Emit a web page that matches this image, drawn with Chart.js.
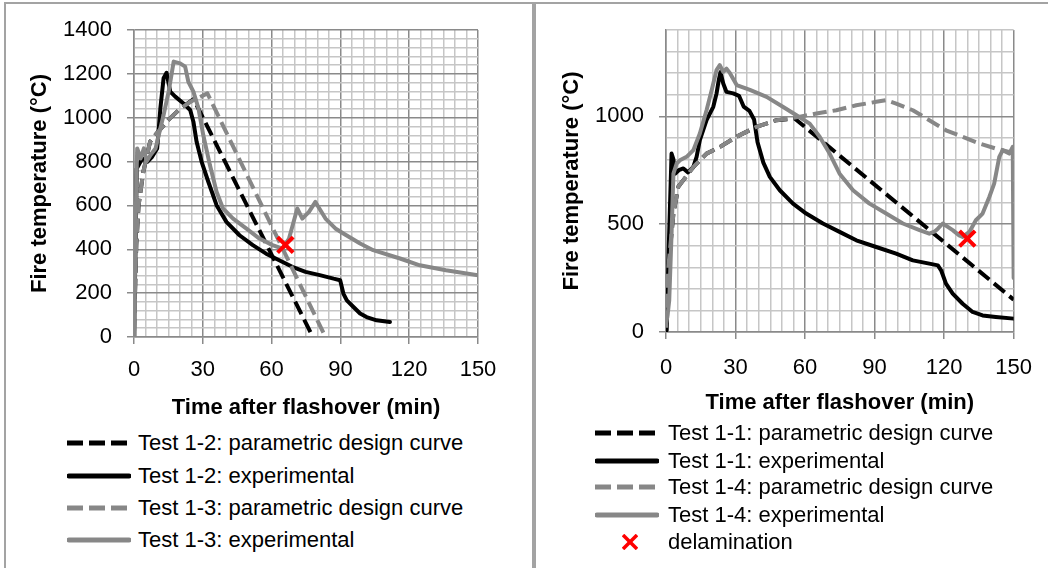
<!DOCTYPE html>
<html>
<head>
<meta charset="utf-8">
<script src="https://cdn.jsdelivr.net/npm/chart.js@4.4.0/dist/chart.umd.min.js"></script>
<style>
  html, body { margin: 0; padding: 0; background: #fff; }
  body { width: 1048px; height: 568px; overflow: hidden; position: relative; font-family: "Liberation Sans", Arial, sans-serif; }
  .panel { position: absolute; border: 2px solid #a3a3a3; border-bottom: none; box-sizing: border-box; }
  #panelL { left: 4px; top: 2px; width: 530px; height: 600px; }
  #panelR { left: 534px; top: 2px; width: 600px; height: 600px; }
  canvas { position: absolute; }
  #cL { left: 0; top: 0; }
  #cR { left: 535px; top: 0; }
  .lg { position: absolute; height: 26px; line-height: 26px; font-size: 22px; color: #000; white-space: nowrap; }
  .lgs { position: absolute; }
</style>
</head>
<body>
<div class="panel" id="panelL"></div>
<div class="panel" id="panelR"></div>
<canvas id="cL" width="532" height="427" style="width:532px;height:427px"></canvas>
<canvas id="cR" width="513" height="422" style="width:513px;height:422px"></canvas>
<div id="legendL"></div>
<div id="legendR"></div>
<script>
// ---------- tick labels ----------
const xTickLabels = [0, 30, 60, 90, 120, 150];
const yTickLabelsLeft = [0, 200, 400, 600, 800, 1000, 1200, 1400];
const yTickLabelsRight = [0, 500, 1000];

// ---------- left chart: Test 1-2 and Test 1-3 ----------
const t12Design = [0, 1, 2, 4, 7, 10, 15, 20, 26, 78];
const T12Design = [20, 420, 600, 750, 890, 930, 990, 1040, 1085, 0];

const t12Exp = [0, 0.5, 1.2, 3.6, 5.8, 7.9, 10.1, 11.5, 12.9, 14.2, 15.8, 18, 21.6, 24.5, 25.9, 27.3, 29.5, 32.4, 36, 40.3, 46, 51.8, 57.6, 63.3, 69, 74.8, 81, 87, 89.9, 91.3, 92.8, 95.7, 98.6, 101.4, 105.8, 111.6];
const T12Exp = [0, 300, 768, 814, 799, 822, 860, 1043, 1180, 1205, 1119, 1096, 1065, 1035, 982, 890, 799, 708, 601, 525, 464, 419, 380, 350, 320, 297, 282, 266, 259, 198, 167, 137, 107, 91, 76, 68];

const t13Design = [0, 1, 2, 4, 7, 10, 15, 20, 25, 32, 83.5];
const T13Design = [20, 420, 600, 750, 890, 930, 990, 1040, 1075, 1111, 0];

const t13Exp = [0, 0.3, 1, 1.4, 2.9, 4.3, 5.5, 7.2, 9.4, 10.8, 12.9, 15.1, 17.3, 20.1, 22.3, 23.7, 25.9, 28.1, 30.2, 33.1, 36, 38.8, 43.2, 48.9, 54.7, 60.4, 64.7, 67.6, 71.2, 73.4, 76.3, 79.1, 83.5, 87.8, 91.3, 98.6, 104.3, 116, 124.6, 136, 150];
const T13Exp = [0, 205, 700, 860, 814, 860, 800, 830, 860, 921, 1012, 1119, 1256, 1248, 1233, 1164, 1119, 1043, 921, 784, 662, 586, 540, 495, 449, 419, 403, 449, 586, 540, 571, 616, 540, 495, 472, 426, 396, 358, 327, 304, 281];

const tDelamLeft = [66];
const TDelamLeft = [420];

// ---------- right chart: Test 1-1 and Test 1-4 ----------
const t11Design = [0, 1, 3.2, 5.3, 7.5, 11.8, 17.5, 23.3, 30.4, 39, 47.7, 55.5, 150];
const T11Design = [20, 300, 549, 673, 704, 765, 827, 858, 905, 951, 982, 990, 150];

const t11Exp = [0.3, 1.2, 2.4, 3.2, 3.9, 5.5, 7.5, 9.5, 11.8, 13.2, 14.6, 17.5, 20.4, 21.8, 22.8, 23.5, 24.7, 26.1, 29, 31.5, 33.5, 36, 38, 39.5, 42, 44.8, 49.1, 54.8, 60.5, 67.7, 74.9, 82.1, 90.7, 99.3, 106.5, 113.6, 117.3, 118.7, 120.8, 123.7, 128, 132.3, 136.6, 142.3, 150];
const T11Exp = [8, 400, 827, 800, 734, 750, 758, 740, 765, 812, 889, 982, 1044, 1105, 1170, 1205, 1152, 1113, 1106, 1095, 1045, 1025, 985, 880, 785, 719, 657, 595, 549, 503, 464, 425, 394, 363, 332, 317, 309, 286, 224, 178, 131, 93, 77, 70, 62];

const t14Design = [0, 1, 3.2, 5.3, 7.5, 11.8, 17.5, 23.3, 30.4, 39, 47.7, 56.3, 64.9, 73.5, 82.1, 90.7, 95, 99.3, 106.5, 113.6, 120.8, 128, 135.2, 142.4, 148];
const T14Design = [20, 300, 549, 673, 704, 765, 827, 858, 905, 951, 982, 995, 1013, 1028, 1051, 1067, 1075, 1059, 1028, 982, 935, 905, 874, 850, 835];

const t14Exp = [0, 0.6, 1.4, 2.4, 3.2, 4.6, 6, 8.9, 11.8, 14.6, 17.5, 19.7, 21.8, 23.2, 24.7, 26.1, 27.6, 30.5, 36.2, 43.4, 50.4, 56.3, 62, 66.3, 70.6, 74.9, 80.7, 87.8, 95, 102.2, 109.4, 113.6, 115.8, 117.3, 119.4, 121.6, 123.7, 126.5, 128, 130.9, 133.7, 136.6, 139.5, 141.6, 143.8, 145.3, 148.1, 149.6, 150];
const T14Exp = [40, 70, 147, 456, 734, 781, 796, 812, 843, 920, 1028, 1121, 1214, 1237, 1206, 1221, 1200, 1145, 1122, 1090, 1044, 1005, 966, 905, 827, 734, 657, 595, 549, 503, 472, 456, 465, 479, 503, 487, 472, 448, 441, 464, 518, 549, 626, 688, 812, 843, 827, 858, 250];

const tDelamRight = [130];
const TDelamRight = [433];

// ---------- helpers ----------
const BLACK = '#000000';
const GRAY = '#878787';
const RED = '#ff0000';
const DASH = [14, 6];
const FONT = '"Liberation Sans", Arial, sans-serif';

function pts(ts, Ts) { return ts.map((t, i) => ({ x: t, y: Ts[i] })); }

function lineSet(label, ts, Ts, color, dashed, order) {
  return {
    label, data: pts(ts, Ts), borderColor: color, backgroundColor: color,
    borderWidth: 4, borderDash: dashed ? DASH : [], pointRadius: 0, pointHoverRadius: 0,
    tension: 0, fill: false, borderJoinStyle: 'round', borderCapStyle: dashed ? 'butt' : 'round',
    order, _dashed: dashed
  };
}
function delamSet(ts, Ts) {
  return {
    label: 'delamination', data: pts(ts, Ts), showLine: false,
    pointStyle: 'crossRot', pointRadius: 11, pointBorderWidth: 4,
    borderColor: RED, backgroundColor: RED, pointBorderColor: RED, order: 0, _marker: true
  };
}

function makeOptions(yMax, yStep, yMajor, yLabels, yWidth, padRight, yTitlePad, xTickPad) {
  const majorCol = '#8a8a8a', minorCol = '#c6c6c6';
  return {
    responsive: false, animation: false, devicePixelRatio: 1,
    layout: { padding: { left: 0, right: padRight, top: 30, bottom: 0 } },
    plugins: { legend: { display: false }, tooltip: { enabled: false } },
    scales: {
      x: {
        type: 'linear', min: 0, max: 150,
        afterFit: s => { s.height = 90; },
        ticks: {
          stepSize: 5, autoSkip: false, maxRotation: 0, padding: xTickPad, color: '#000',
          font: { family: FONT, size: 22 },
          callback: v => xTickLabels.includes(v) ? String(v) : ''
        },
        grid: {
          color: c => (c.tick && c.tick.value % 30 === 0) ? majorCol : minorCol,
          tickColor: c => (c.tick && c.tick.value % 30 === 0) ? majorCol : 'rgba(0,0,0,0)',
          lineWidth: 1.5, tickLength: 7, drawTicks: true
        },
        border: { color: majorCol, width: 1.5 },
        title: { display: true, text: 'Time after flashover (min)', color: '#000',
                 font: { family: FONT, size: 22, weight: 'bold' }, padding: { top: 0, bottom: 5.8 } }
      },
      y: {
        min: 0, max: yMax,
        afterFit: s => { s.width = yWidth; },
        ticks: {
          stepSize: yStep, autoSkip: false, padding: 15, color: '#000',
          font: { family: FONT, size: 22 },
          callback: v => yLabels.includes(v) ? String(v) : ''
        },
        grid: {
          color: c => (c.tick && c.tick.value % yMajor === 0) ? majorCol : minorCol,
          tickColor: c => (c.tick && c.tick.value % yMajor === 0) ? majorCol : 'rgba(0,0,0,0)',
          lineWidth: 1.5, tickLength: 7
        },
        border: { color: majorCol, width: 1.5 },
        title: { display: true, text: 'Fire temperature (°C)', color: '#000',
                 font: { family: FONT, size: 22, weight: 'bold' }, padding: { top: yTitlePad, bottom: 0 } }
      }
    }
  };
}

// ---------- left chart ----------
const leftSets = [
  lineSet('Test 1-2: parametric design curve', t12Design, T12Design, BLACK, true, 4),
  lineSet('Test 1-2: experimental', t12Exp, T12Exp, BLACK, false, 3),
  lineSet('Test 1-3: parametric design curve', t13Design, T13Design, GRAY, true, 2),
  lineSet('Test 1-3: experimental', t13Exp, T13Exp, GRAY, false, 1),
  delamSet(tDelamLeft, TDelamLeft)
];
new Chart(document.getElementById('cL'), {
  type: 'line',
  data: { datasets: leftSets },
  options: makeOptions(1400, 40, 200, yTickLabelsLeft, 134, 54, 26.8, 13)
});

// ---------- right chart ----------
const rightSets = [
  lineSet('Test 1-1: parametric design curve', t11Design, T11Design, BLACK, true, 4),
  lineSet('Test 1-1: experimental', t11Exp, T11Exp, BLACK, false, 3),
  lineSet('Test 1-4: parametric design curve', t14Design, T14Design, GRAY, true, 2),
  lineSet('Test 1-4: experimental', t14Exp, T14Exp, GRAY, false, 1),
  delamSet(tDelamRight, TDelamRight)
];
new Chart(document.getElementById('cR'), {
  type: 'line',
  data: { datasets: rightSets },
  options: makeOptions(1400, 100, 500, yTickLabelsRight, 131, 34, 23.8, 16)
});

// ---------- HTML legends (real text) ----------
function buildLegend(el, sets, sampleX, textX, rowYs, includeMarker) {
  let html = '';
  const list = includeMarker ? sets : sets.filter(s => !s._marker);
  list.forEach((s, i) => {
    const cy = rowYs[i];
    let svg;
    if (s._marker) {
      svg = `<svg class="lgs" style="left:${sampleX + 27}px;top:${cy - 8}px" width="16" height="16">
        <line x1="1" y1="1" x2="15" y2="15" stroke="${RED}" stroke-width="3.5"/>
        <line x1="15" y1="1" x2="1" y2="15" stroke="${RED}" stroke-width="3.5"/></svg>`;
    } else if (s._dashed) {
      svg = `<svg class="lgs" style="left:${sampleX}px;top:${cy - 4}px" width="60" height="8">
        <line x1="0" y1="4" x2="60" y2="4" stroke="${s.borderColor}" stroke-width="5" stroke-dasharray="16,6"/></svg>`;
    } else {
      svg = `<svg class="lgs" style="left:${sampleX}px;top:${cy - 4}px" width="64" height="8">
        <line x1="2" y1="4" x2="62" y2="4" stroke="${s.borderColor}" stroke-width="5" stroke-linecap="round"/></svg>`;
    }
    html += svg + `<div class="lg" style="left:${textX}px;top:${cy - 13}px">${s.label}</div>`;
  });
  el.innerHTML = html;
}
buildLegend(document.getElementById('legendL'), leftSets, 67, 138, [443, 476, 508, 540], false);
buildLegend(document.getElementById('legendR'), rightSets, 595, 668, [433, 461, 487, 515, 542], true);
</script>
</body>
</html>
